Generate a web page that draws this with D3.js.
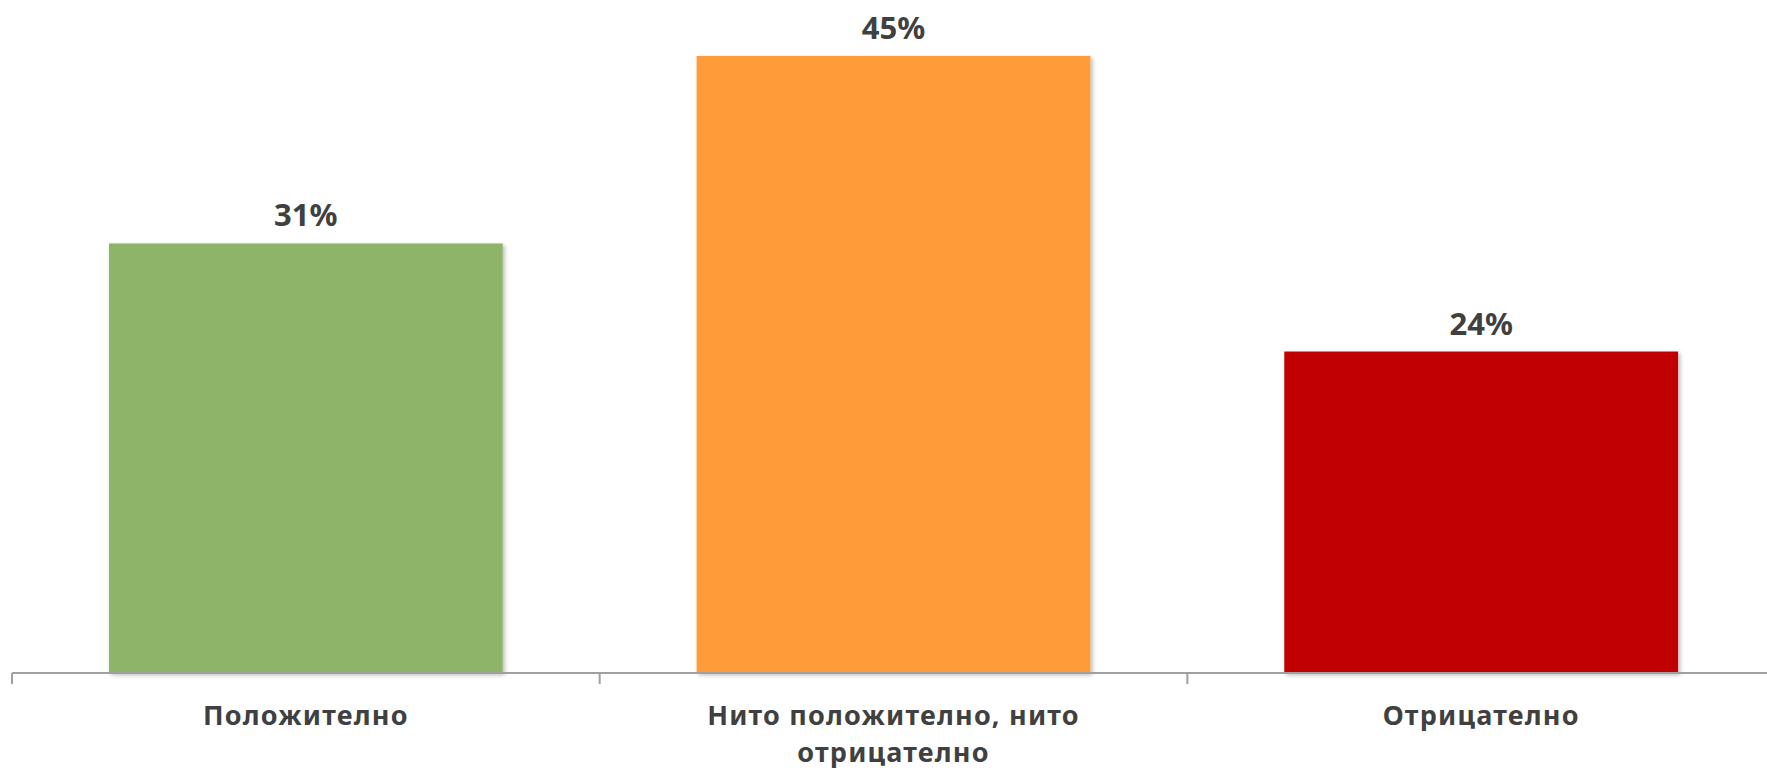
<!DOCTYPE html>
<meta charset="utf-8">
<head>
    <title>Отношение</title>
    <script type="text/javascript" src="https://d3js.org/d3.v7.min.js"></script>
    <style>
        body { margin: 0; background: #fff; }
        text { font-family: "Noto Sans", "DejaVu Sans", sans-serif; font-weight: bold; fill: #404040; }
    </style>
</head>
<body>
<script>
    // data
    var categories = ["Положително", "Нито положително, нито отрицателно", "Отрицателно"];
    var labelLines = [["Положително"], ["Нито положително, нито", "отрицателно"], ["Отрицателно"]];
    var values = [31.4, 45.1, 23.5];
    var colors = ["#8EB46A", "#FF9B37", "#C00000"];

    var width = 1767, height = 771;
    var baseY = 673;

    var svg = d3.select("body").append("svg")
        .attr("width", width)
        .attr("height", height);

    var defs = svg.append("defs");
    var f = defs.append("filter").attr("id", "shadow")
        .attr("x", "-5%").attr("y", "-5%").attr("width", "115%").attr("height", "115%");
    f.append("feDropShadow")
        .attr("dx", 2).attr("dy", 2).attr("stdDeviation", 2)
        .attr("flood-color", "#000").attr("flood-opacity", 0.28);

    // the plot area runs a bit past the right edge of the picture
    var x = d3.scaleBand()
        .domain(categories)
        .range([12, 1775])
        .paddingInner(0.33)
        .paddingOuter(0.165);

    var y = d3.scaleLinear()
        .domain([0, 50])
        .range([baseY, baseY - 50 * 13.68]);

    // bars
    svg.append("g").selectAll("rect")
        .data(values)
        .enter()
        .append("rect")
        .attr("x", function(d, i) { return x(categories[i]); })
        .attr("y", function(d) { return y(d); })
        .attr("width", x.bandwidth())
        .attr("height", function(d) { return y(0) - y(d); })
        .attr("fill", function(d, i) { return colors[i]; })
        .attr("filter", "url(#shadow)");

    // axis
    var step = x.step();
    var tickX = d3.range(categories.length + 1).map(function(i) { return 12 + i * step; });
    var axis = svg.append("g");
    axis.append("line")
        .attr("x1", 12).attr("x2", 1775)
        .attr("y1", baseY).attr("y2", baseY)
        .attr("stroke", "#a0a0a0").attr("stroke-width", 2);
    axis.selectAll(".tick")
        .data(tickX)
        .enter()
        .append("line")
        .attr("x1", function(d) { return d; }).attr("x2", function(d) { return d; })
        .attr("y1", baseY).attr("y2", baseY + 11)
        .attr("stroke", "#a0a0a0").attr("stroke-width", 2);

    // value labels
    svg.append("g").selectAll("text")
        .data(values)
        .enter()
        .append("text")
        .attr("x", function(d, i) { return x(categories[i]) + x.bandwidth() / 2; })
        .attr("y", function(d) { return y(d) - 17; })
        .attr("text-anchor", "middle")
        .attr("font-size", 31)
        .text(function(d) { return d3.format(".0f")(d) + "%"; });

    // category labels, one text per line
    var catG = svg.append("g").selectAll("g")
        .data(labelLines)
        .enter()
        .append("g");
    catG.selectAll("text")
        .data(function(d, i) { return d.map(function(t) { return { t: t, i: i }; }); })
        .enter()
        .append("text")
        .attr("x", function(d) { return x(categories[d.i]) + x.bandwidth() / 2; })
        .attr("y", function(d, j) { return 725 + j * 37; })
        .attr("text-anchor", "middle")
        .attr("font-size", 27)
        .attr("letter-spacing", 1.2)
        .text(function(d) { return d.t; });
</script>
</body>
</html>
